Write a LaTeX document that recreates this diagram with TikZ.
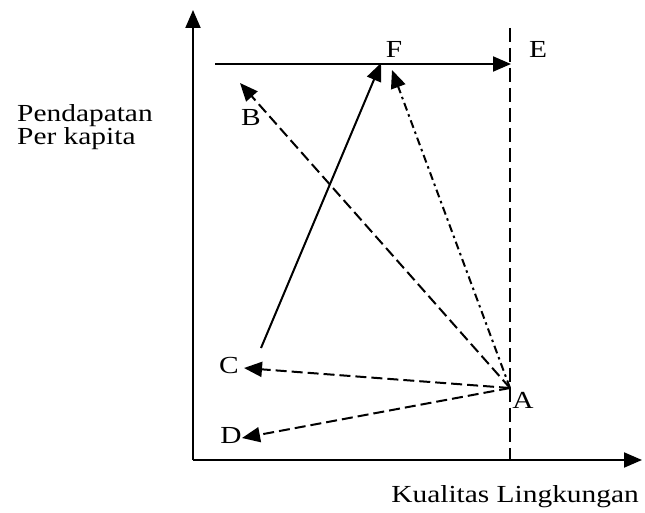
\documentclass[tikz,border=0pt]{standalone}
\usepackage{fontspec}
\setmainfont{Liberation Serif}[FakeStretch=1.2]
\usetikzlibrary{arrows.meta}
\begin{document}
\begin{tikzpicture}[x=1pt,y=-1pt,
  lbl/.style={inner sep=0pt,font=\fontsize{24.5}{19}\selectfont},
  arr/.style={line width=2pt,-{Triangle[length=18pt,width=15pt]}},
  dsh/.style={arr,dash pattern=on 11pt off 5pt},
  dshdot/.style={arr,dash pattern=on 8pt off 4pt on 2.5pt off 4pt}]
\useasboundingbox (0,0) rectangle (645,513);
\coordinate (O) at (193,460);
\coordinate (Ytop) at (193,10);
\coordinate (Xend) at (642,460);
\coordinate (Vtop) at (510,28);
\coordinate (Vbot) at (510,460);
\coordinate (Hs) at (215,64);
\coordinate (Eend) at (511,64);
\coordinate (A) at (510,388);
\coordinate (Ftip) at (381,63);
\coordinate (Fd) at (392,70);
\coordinate (Btip) at (240,83);
\coordinate (Ctip) at (244,368);
\coordinate (Dtip) at (242,438);
\coordinate (Cs) at (261,348);
\draw[arr] (O) -- (Ytop);
\draw[arr] (O) -- (Xend);
\draw[line width=2pt,dash pattern=on 14pt off 6pt] (Vtop) -- (Vbot);
\draw[arr] (Hs) -- (Eend);
\draw[arr] (Cs) -- (Ftip);
\draw[dsh] (A) -- (Btip);
\draw[dshdot] (A) -- (Fd);
\draw[dsh] (A) -- (Ctip);
\draw[dsh] (A) -- (Dtip);
\node[lbl] (lE) at (538,49) {E};
\node[lbl] (lF) at (394,49) {F};
\node[lbl] (lB) at (251,118) {B};
\node[lbl] (lC) at (229,366) {C};
\node[lbl] (lD) at (231,436) {D};
\node[lbl] (lA) at (523,400) {A};
\node[lbl,anchor=west,align=left] (lY) at (17,127) {Pendapatan\\Per kapita};
\node[lbl,anchor=east] (lX) at (639,497) {Kualitas Lingkungan};
\end{tikzpicture}
\end{document}
